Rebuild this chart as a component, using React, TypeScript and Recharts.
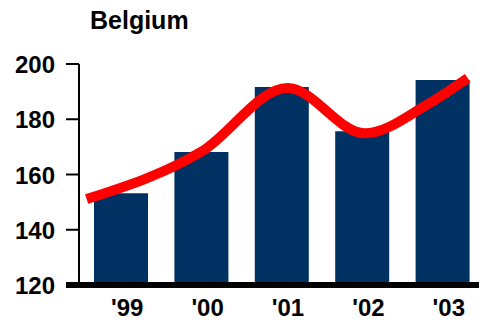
import { ComposedChart, Bar, Line, XAxis, YAxis } from 'recharts'

// bar values per year
const years = ["'99", "'00", "'01", "'02", "'03"]
const barValues = [153.2, 168.1, 191.7, 175.7, 194.2]

// red trend curve, x in bar-index units
const trendX = [-0.43, 1, 2.07, 3.03, 3.8, 4.31]
const trendY = [151.1, 168.3, 191.3, 174.9, 185.2, 194.9]

const yTicks = [120, 140, 160, 180, 200]

const barData = years.map((year, i) => ({ year, value: barValues[i] }))
const trendData = trendX.map((x, i) => ({ x, y: trendY[i] }))

const font = '"Liberation Sans", Arial, sans-serif'
const navy = '#003163'

const YTick = ({ x, y, payload }: any) => {
    const isBase = payload.value === yTicks[0]
    return (
        <g>
            <line x1={x - 13} y1={y} x2={x} y2={y} stroke="#000" strokeWidth={isBase ? 6 : 2} />
            <text x={x - 24} y={y} dy={9} textAnchor="end" fontSize={24} fontWeight="bold" fontFamily={font} fill="#000">
                {payload.value}
            </text>
        </g>
    )
}

const XTick = ({ x, y, payload }: any) => (
    <text x={x} y={y} dx={6} dy={31} textAnchor="middle" fontSize={24} fontWeight="bold" fontFamily={font} fill="#000">
        {payload.value}
    </text>
)

export default function App() {
    return (
        <div style={{ position: 'absolute', left: 0, top: 0, width: 479, height: 323, overflow: 'hidden', background: '#fff' }}>
            <div style={{ position: 'absolute', left: 90, top: 8, fontFamily: font, fontSize: 25, lineHeight: '24px', fontWeight: 'bold' }}>
                Belgium
            </div>
            <ComposedChart width={483} height={323} data={barData} margin={{ top: 64, right: 0, bottom: 0, left: 0 }}>
                <XAxis
                    dataKey="year"
                    height={38}
                    padding={{ left: 2, right: 0 }}
                    axisLine={{ stroke: '#000', strokeWidth: 6 }}
                    tickLine={false}
                    tickSize={0}
                    tickMargin={0}
                    tick={<XTick />}
                    interval={0}
                />
                <XAxis
                    xAxisId="trend"
                    dataKey="x"
                    type="number"
                    domain={[-0.5, 4.5]}
                    padding={{ left: 2, right: 0 }}
                    hide
                />
                <YAxis
                    width={79}
                    domain={[120, 200]}
                    ticks={yTicks}
                    allowDataOverflow
                    axisLine={{ stroke: '#000', strokeWidth: 2 }}
                    tickLine={false}
                    tickSize={0}
                    tickMargin={0}
                    tick={<YTick />}
                />
                <Bar dataKey="value" fill={navy} barSize={54} isAnimationActive={false} />
                <Line
                    xAxisId="trend"
                    data={trendData}
                    dataKey="y"
                    type="monotone"
                    stroke="#ff0000"
                    strokeWidth={10}
                    dot={false}
                    activeDot={false}
                    isAnimationActive={false}
                />
            </ComposedChart>
        </div>
    )
}
